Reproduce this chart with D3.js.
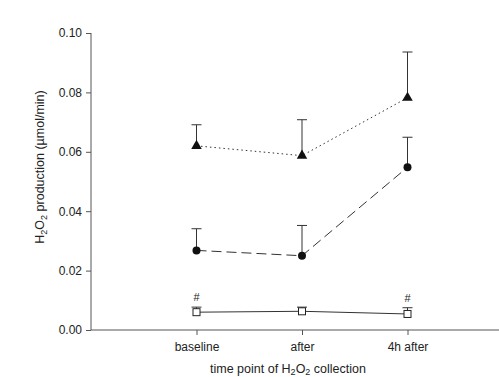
<!DOCTYPE html>
<html><head><meta charset="utf-8">
<script src="https://cdn.jsdelivr.net/npm/d3@7"></script>
<style>body{margin:0;background:#fff}svg{display:block}text{font-family:"Liberation Sans",Arial,sans-serif;fill:#222}</style>
</head><body><svg id="c" width="499" height="377"></svg>
<script>
const categories = ["baseline", "after", "4h after"];
const triMean = [0.0620, 0.0587, 0.0782];
const triErr  = [0.0071, 0.0121, 0.0154];
const cirMean = [0.0268, 0.0250, 0.0548];
const cirErr  = [0.0073, 0.0102, 0.0101];
const sqMean  = [0.0060, 0.0063, 0.0054];
const sqErr   = [0.0017, 0.0014, 0.0021];
const sigMarks = ["#", "", "#"];
const yTicks = [0, 0.02, 0.04, 0.06, 0.08, 0.10];

const svg = d3.select("#c");
const x = d3.scaleLinear().domain([0, 4]).range([91, 513]);
const y = d3.scaleLinear().domain([0, 0.10]).range([330, 33]);
const col = "#333";
const ff = "Liberation Sans, Arial, sans-serif";

// axes
const ya = svg.append("g").attr("transform","translate(91,0)")
  .call(d3.axisLeft(y).tickValues(yTicks).tickFormat(d3.format(".2f")).tickSize(5).tickPadding(4));
ya.select(".domain").attr("stroke", "#555").attr("d", "M0,330V33");
ya.selectAll(".tick line").attr("stroke","#555");
ya.selectAll(".tick text").attr("font-size", 12).attr("fill","#222").style("font-family",ff);

const xa = svg.append("g").attr("transform","translate(0,330)")
  .call(d3.axisBottom(x).tickValues([1,2,3]).tickFormat(d => categories[d-1]).tickSize(5).tickPadding(7));
xa.select(".domain").attr("stroke","#555").attr("d","M91,0H499");
xa.selectAll(".tick line").attr("stroke","#555");
xa.selectAll(".tick text").attr("font-size", 12).attr("fill","#222").style("font-family",ff);

// axis titles
const yt = svg.append("text").attr("transform","translate(44,167) rotate(-90)").attr("text-anchor","middle").attr("font-size",12.5);
yt.append("tspan").text("H");
yt.append("tspan").text("2").attr("font-size",9).attr("dy",3);
yt.append("tspan").text("O").attr("dy",-3);
yt.append("tspan").text("2").attr("font-size",9).attr("dy",3);
yt.append("tspan").text(" production (\u00b5mol/min)").attr("dy",-3);

const xt = svg.append("text").attr("x",288).attr("y",373).attr("text-anchor","middle").attr("font-size",12.5);
xt.append("tspan").text("time point of H");
xt.append("tspan").text("2").attr("font-size",9).attr("dy",2);
xt.append("tspan").text("O").attr("dy",-2);
xt.append("tspan").text("2").attr("font-size",9).attr("dy",2);
xt.append("tspan").text(" collection").attr("dy",-2);

const idx = [1,2,3];
function series(mean, err, dash, marker) {
  const line = d3.line().x((d,i)=>x(idx[i])).y(d=>y(d));
  svg.append("path").datum(mean).attr("d", line).attr("fill","none")
    .attr("stroke", col).attr("stroke-width", 1).attr("stroke-dasharray", dash);
  const g = svg.append("g");
  mean.forEach((m,i) => {
    const cx = x(idx[i]);
    g.append("line").attr("x1",cx).attr("x2",cx).attr("y1",y(m)).attr("y2",y(m+err[i])).attr("stroke",col).attr("stroke-width",1);
    g.append("line").attr("x1",cx-5).attr("x2",cx+5).attr("y1",y(m+err[i])).attr("y2",y(m+err[i])).attr("stroke",col).attr("stroke-width",1);
  });
  mean.forEach((m,i) => marker(g, x(idx[i]), y(m)));
}
series(triMean, triErr, "1.5,3", (g,cx,cy)=>{
  g.append("path").attr("d", d3.symbol(d3.symbolTriangle, 48)()).attr("transform",`translate(${cx},${cy})`).attr("fill","#111");
});
series(cirMean, cirErr, "10,5", (g,cx,cy)=>{
  g.append("circle").attr("cx",cx).attr("cy",cy).attr("r",4).attr("fill","#111");
});
series(sqMean, sqErr, null, (g,cx,cy)=>{
  g.append("rect").attr("x",cx-3.5).attr("y",cy-3.5).attr("width",7).attr("height",7).attr("fill","#fff").attr("stroke","#222").attr("stroke-width",1);
});

// significance marks
sigMarks.forEach((s,i)=>{
  if(!s) return;
  svg.append("text").attr("x",x(idx[i])).attr("y",y(sqMean[i]+sqErr[i])-6).attr("text-anchor","middle").attr("font-size",11).text(s);
});
</script></body></html>
